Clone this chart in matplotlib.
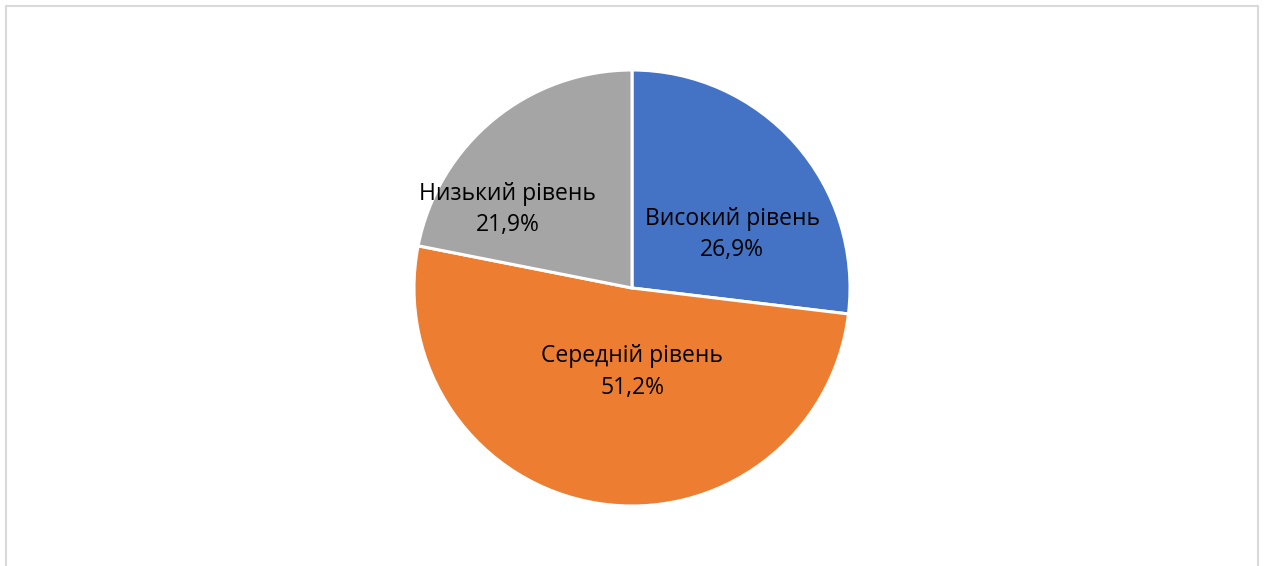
import matplotlib.pyplot as plt
from matplotlib.patches import Rectangle

labels = ["Високий рівень", "Середній рівень", "Низький рівень"]
values = [26.9, 51.2, 21.9]
colors = ["#4472C4", "#ED7D31", "#A5A5A5"]
# label anchor positions in pie-radius units (Excel "best fit" placement)
label_pos = [(0.46, 0.245), (0.0, -0.385), (-0.57, 0.36)]

W, H = 1265, 566
fig = plt.figure(figsize=(W / 100, H / 100), dpi=100)

# chart area frame
fig.patches.append(Rectangle((5.5 / W, -0.05), (1258 - 5.5) / W, 1.05 - 5.5 / H,
                             transform=fig.transFigure, fill=False,
                             edgecolor="#D9D9D9", linewidth=1.5))

cx, cy, r = 632, 288, 218
ax = fig.add_axes([(cx - r) / W, (H - cy - r) / H, 2 * r / W, 2 * r / H])
ax.pie(values, colors=colors, startangle=90, counterclock=False, radius=1,
       wedgeprops=dict(edgecolor="white", linewidth=2.2))
ax.set_xlim(-1, 1)
ax.set_ylim(-1, 1)
ax.set_aspect("equal")
ax.axis("off")

for lab, v, (x, y) in zip(labels, values, label_pos):
    txt = f"{lab}\n{v:.1f}%".replace(".", ",")
    ax.text(x, y, txt, ha="center", va="center", fontsize=16.5,
            family="Open Sans", color="black", linespacing=1.4)

fig.savefig("out.png", dpi=100)
